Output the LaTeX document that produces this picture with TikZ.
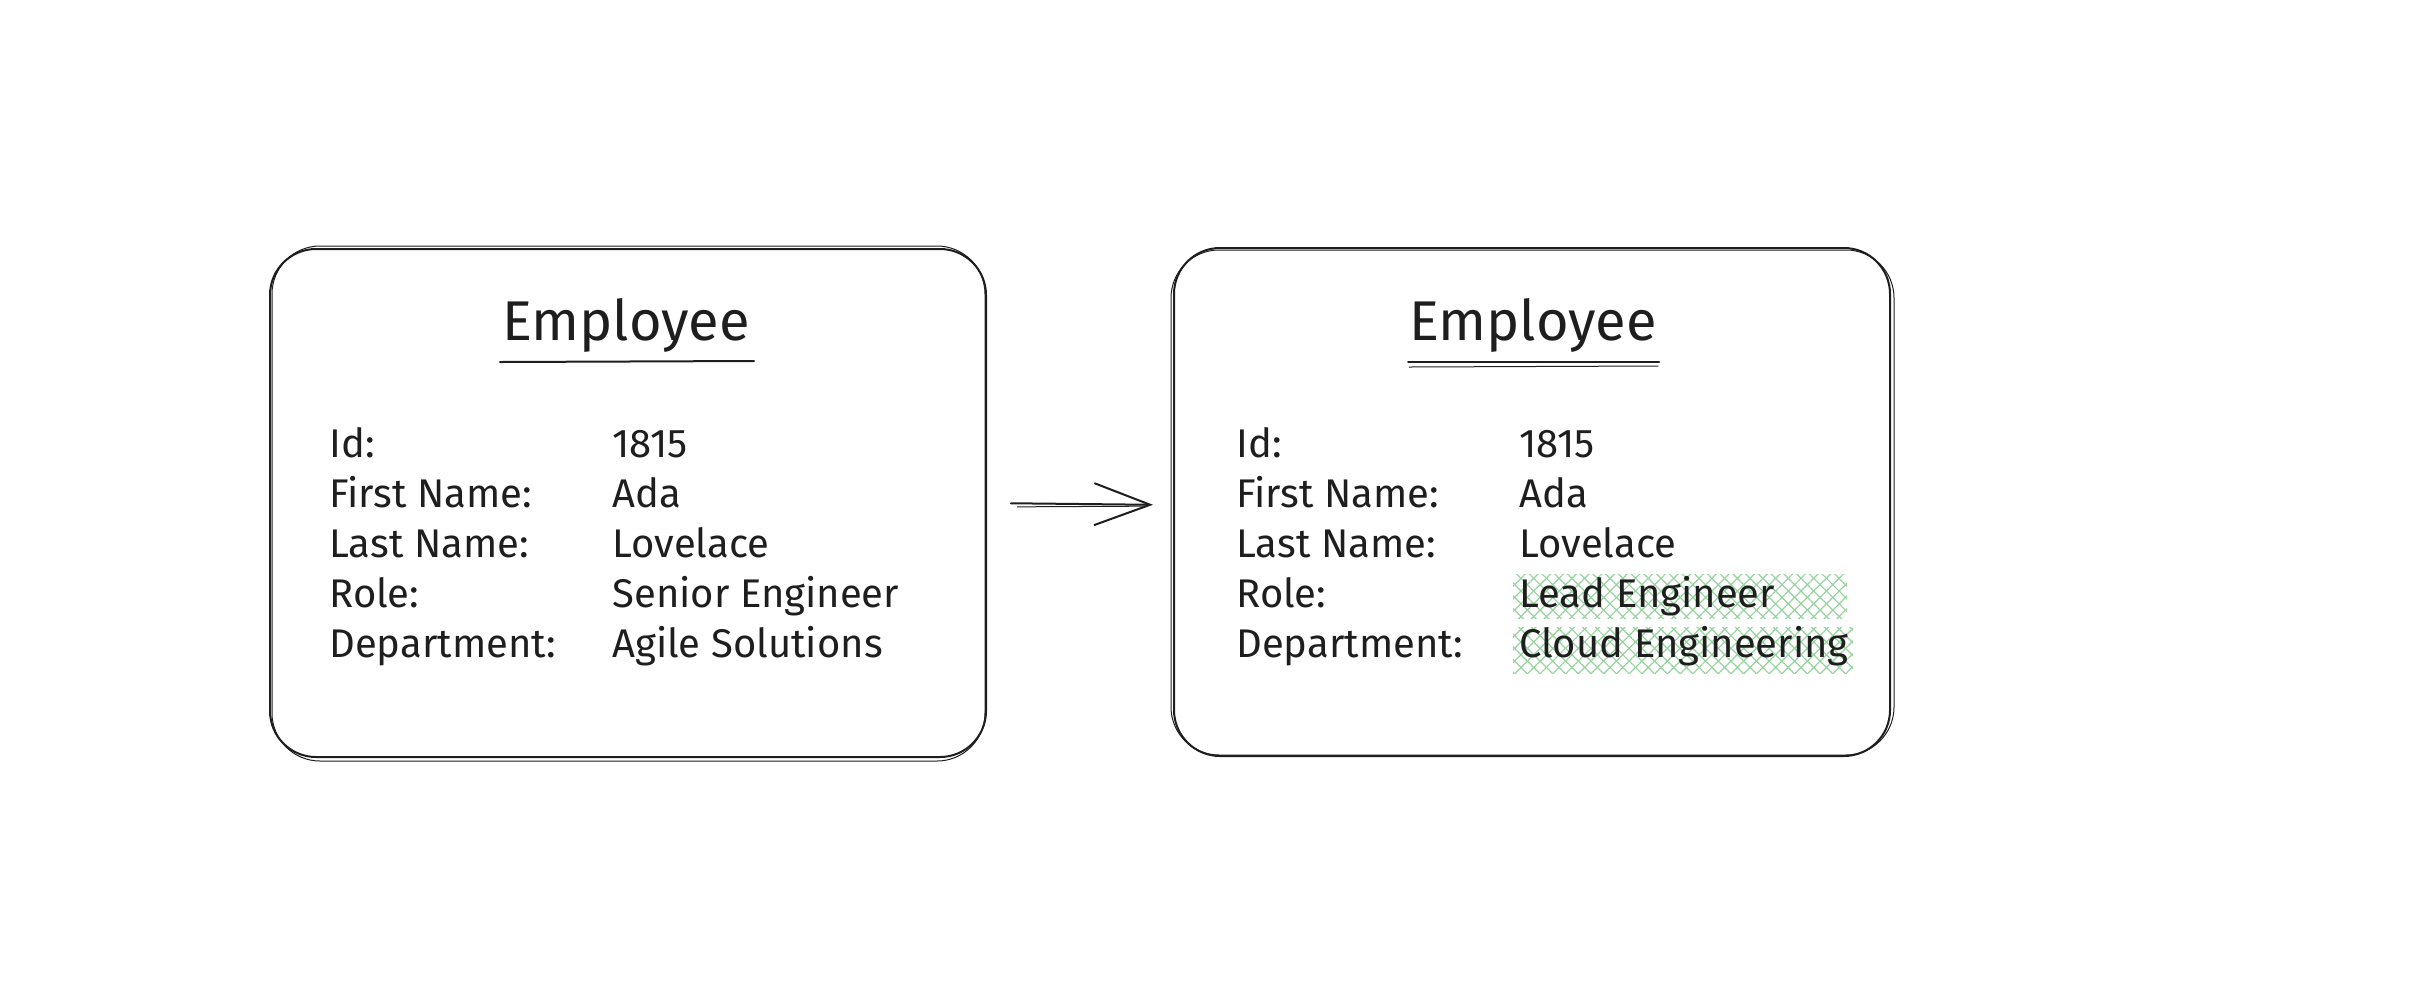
\documentclass[tikz,border=0pt]{standalone}
\usepackage{fontspec}
\setmainfont{Fira Sans}
\usetikzlibrary{arrows.meta,patterns.meta}
\definecolor{ink}{HTML}{1E1E1E}
\definecolor{hl}{HTML}{96D39E}
\begin{document}
\begin{tikzpicture}[x=0.5pt,y=-0.5pt,
  card/.style={draw=ink, line width=1pt, rounded corners=23pt, minimum width=358pt, minimum height=254pt, inner sep=0pt},
  rough/.style={draw=ink, line width=0.5pt, rounded corners=24pt},
  ttl/.style={font=\fontsize{28}{34}\selectfont, text=ink, inner sep=0pt},
  lbl/.style={anchor=base west, font=\fontsize{20}{25}\selectfont, text=ink, inner sep=0pt},
  hilite/.style={inner sep=0pt, draw=none,
     pattern={Lines[angle=45,distance=4.5pt,line width=0.6pt]}, pattern color=hl,
     preaction={pattern={Lines[angle=-45,distance=4.5pt,line width=0.6pt]}, pattern color=hl}},
  uline/.style={draw=ink, line width=1pt, line cap=round},
  conn/.style={draw=ink, line width=1pt, line cap=round, -{Straight Barb[length=28pt,width=21pt,line width=1pt]}}
]
\useasboundingbox (0,0) rectangle (2435,992);
% cards
\node[card] (L) at (628,503) {};
\draw[rough] ([shift={(3,-2)}]L.north west) rectangle ([shift={(-2,3)}]L.south east);
\node[card] (R) at (1532,502) {};
\draw[rough] ([shift={(-2,3)}]R.north west) rectangle ([shift={(3,-2)}]R.south east);
% highlights
\node[hilite, minimum width=167pt, minimum height=22pt] (h1) at (1680,596) {};
\node[hilite, minimum width=170pt, minimum height=23pt] (h2) at (1683,650) {};
% titles
\node[ttl] (T1) at (626,325) {Employee};
\draw[uline] ([shift={(-126,37)}]T1.center) -- ([shift={(128,36)}]T1.center);
\node[ttl] (T2) at (1533,325) {Employee};
\draw[uline] ([shift={(-125,37)}]T2.center) -- ([shift={(126,37)}]T2.center);
\draw[uline, line width=0.5pt] ([shift={(-124,42)}]T2.center) -- ([shift={(125,41)}]T2.center);
% left rows
\node[lbl] (la1) at (329,457) {Id:};
\node[lbl] (la2) at (329,507) {First Name:};
\node[lbl] (la3) at (329,557) {Last Name:};
\node[lbl] (la4) at (329,607) {Role:};
\node[lbl] (la5) at (329,657) {Department:};
\node[lbl] (lv1) at (612,457) {1815};
\node[lbl] (lv2) at (612,507) {Ada};
\node[lbl] (lv3) at (612,557) {Lovelace};
\node[lbl] (lv4) at (612,607) {Senior Engineer};
\node[lbl] (lv5) at (612,657) {Agile Solutions};
% right rows
\node[lbl] (ra1) at (1236,457) {Id:};
\node[lbl] (ra2) at (1236,507) {First Name:};
\node[lbl] (ra3) at (1236,557) {Last Name:};
\node[lbl] (ra4) at (1236,607) {Role:};
\node[lbl] (ra5) at (1236,657) {Department:};
\node[lbl] (rv1) at (1519,457) {1815};
\node[lbl] (rv2) at (1519,507) {Ada};
\node[lbl] (rv3) at (1519,557) {Lovelace};
\node[lbl] (rv4) at (1519,607) {Lead Engineer};
\node[lbl] (rv5) at (1519,657) {Cloud Engineering};
% connector
\draw[conn, shorten <=12pt, shorten >=10pt] (L.east |- 0,503) -- (R.west |- 0,505);
\draw[draw=ink, line width=0.5pt, shorten <=15pt, shorten >=14pt] (L.east |- 0,507) -- (R.west |- 0,506);
\end{tikzpicture}
\end{document}
